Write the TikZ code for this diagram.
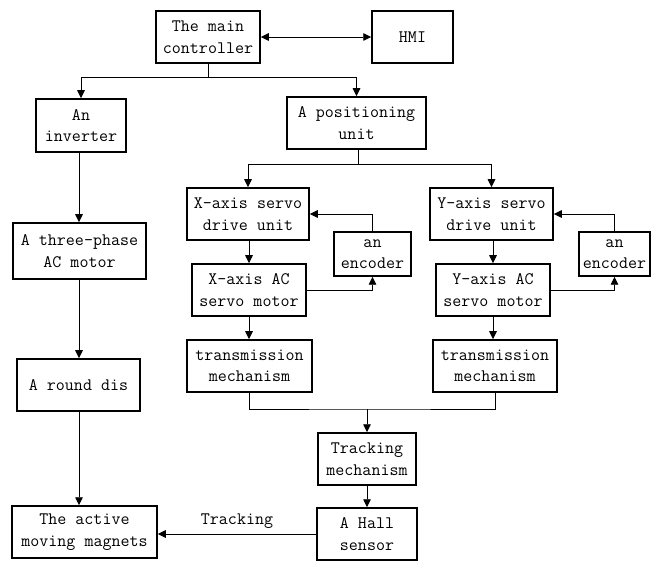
\documentclass[tikz,border=0pt]{standalone}
\usepackage{fontspec}
\setmonofont{Latin Modern Mono}
\usetikzlibrary{arrows.meta,calc}
\begin{document}
\begin{tikzpicture}[x=1pt,y=-1pt,
  box/.style={draw,line width=1.5pt,inner sep=0pt,align=center,
    font=\ttfamily\fontsize{17.5}{21.5}\selectfont},
  link/.style={line width=0.9pt,-{Triangle[length=8pt,width=7.5pt]}},
  plain/.style={line width=0.9pt}]
\useasboundingbox (0,0) rectangle (651,561);
\node[box,minimum width=104pt,minimum height=52pt] (main) at (208,37) {The main\\controller};
\node[box,minimum width=81pt,minimum height=52pt] (hmi) at (412.5,37) {HMI};
\node[box,minimum width=90pt,minimum height=53pt] (inv) at (81,125.5) {An\\inverter};
\node[box,minimum width=139pt,minimum height=52pt] (pos) at (356.5,123) {A positioning\\unit};
\node[box,minimum width=133pt,minimum height=56pt] (three) at (79.5,251) {A three-phase\\AC motor};
\node[box,minimum width=123pt,minimum height=52pt] (round) at (78.5,385) {A round dis};
\node[box,minimum width=122pt,minimum height=52pt] (xdrv) at (248,214) {X-axis servo\\drive unit};
\node[box,minimum width=77pt,minimum height=44pt] (xenc) at (372.5,254) {an\\encoder};
\node[box,minimum width=114pt,minimum height=52pt] (xmot) at (249,290) {X-axis AC\\servo motor};
\node[box,minimum width=125pt,minimum height=52pt] (xtr) at (249.5,366) {transmission\\mechanism};
\node[box,minimum width=123pt,minimum height=52pt] (ydrv) at (491.5,214) {Y-axis servo\\drive unit};
\node[box,minimum width=71pt,minimum height=44pt] (yenc) at (614.5,254) {an\\encoder};
\node[box,minimum width=114pt,minimum height=52pt] (ymot) at (493,290) {Y-axis AC\\servo motor};
\node[box,minimum width=124pt,minimum height=52pt] (ytr) at (495,366) {transmission\\mechanism};
\node[box,minimum width=98pt,minimum height=52pt] (track) at (367,459) {Tracking\\mechanism};
\node[box,minimum width=100pt,minimum height=52pt] (hall) at (367,534) {A Hall\\sensor};
\node[box,minimum width=145pt,minimum height=52pt] (mag) at (84.5,532) {The active\\moving magnets};
\node[font=\ttfamily\fontsize{17.5}{21.5}\selectfont,inner sep=0pt] (tlab) at (237,521) {Tracking};
% connectors
\draw[line width=0.9pt,{Triangle[length=8pt,width=7.5pt]}-{Triangle[length=8pt,width=7.5pt]}] (main.east) -- (hmi.west);
\coordinate (b1) at (208,77);
\draw[plain] (main.south) -- (b1);
\draw[link] (b1) -| (inv.north);
\draw[link] (b1) -| (pos.north);
\coordinate (lc) at (79,0);
\draw[link] (inv.south -| lc) -- (three.north -| lc);
\draw[link] (three.south -| lc) -- (round.north -| lc);
\draw[link] (round.south -| lc) -- (mag.north -| lc);
\coordinate (b2) at (358,164);
\draw[plain] (pos.south -| b2) -- (b2);
\draw[link] (b2) -| (xdrv.north);
\draw[link] (b2) -| (ydrv.north);
\draw[link] (xdrv.south -| xmot.north) -- (xmot.north);
\draw[link] (xmot.south) -- (xmot.south |- xtr.north);
\draw[link] (xenc.north) |- (xdrv.east);
\draw[link] (xmot.east) -| (xenc.south);
\draw[link] (ydrv.south -| ymot.north) -- (ymot.north);
\draw[link] (ymot.south) -- (ymot.south |- ytr.north);
\draw[link] (yenc.north) |- (ydrv.east);
\draw[link] (ymot.east) -| (yenc.south);
\coordinate (j) at (367,409);
\draw[plain] (xtr.south) |- (j) -| (ytr.south);
\draw[link] (j) -- (track.north);
\draw[link] (track.south) -- (hall.north);
\draw[link] (hall.west) -- (hall.west -| mag.east);
\end{tikzpicture}
\end{document}
